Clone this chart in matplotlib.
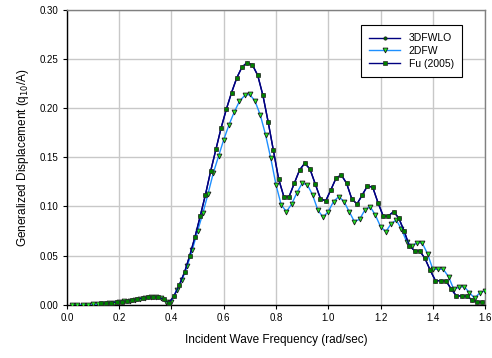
import numpy as np
import matplotlib
matplotlib.use("Agg")
import matplotlib.pyplot as plt
from matplotlib.ticker import FormatStrFormatter, MultipleLocator

plt.rcParams['font.family'] = ['Liberation Sans', 'DejaVu Sans']

# 2DFW (even frequencies 0.02 .. 1.60)
freq_2dfw = [round(0.02 * i, 2) for i in range(1, 81)]
val_2dfw = [
    0.0000, 0.0000, 0.0000, 0.0000, 0.0002, 0.0005, 0.0010, 0.0015, 0.0020, 0.0027,
    0.0034, 0.0042, 0.0051, 0.0061, 0.0071, 0.0078, 0.0079, 0.0066, 0.0032, 0.0030,
    0.0150, 0.0250, 0.0390, 0.0560, 0.0750, 0.0930, 0.1130, 0.1340, 0.1510, 0.1680,
    0.1830, 0.1960, 0.2070, 0.2130, 0.2140, 0.2070, 0.1930, 0.1730, 0.1490, 0.1220,
    0.1015, 0.0947, 0.1025, 0.1140, 0.1236, 0.1220, 0.1117, 0.0964, 0.0890, 0.0947,
    0.1050, 0.1100, 0.1050, 0.0947, 0.0845, 0.0870, 0.0964, 0.0998, 0.0913, 0.0794,
    0.0743, 0.0822, 0.0862, 0.0768, 0.0640, 0.0598, 0.0630, 0.0625, 0.0516, 0.0360,
    0.0360, 0.0360, 0.0285, 0.0157, 0.0177, 0.0183, 0.0122, 0.0065, 0.0122, 0.0140,
]

# Fu (2005) and 3DFWLO (odd frequencies 0.13 .. 1.59)
freq_fu = [round(0.13 + 0.02 * i, 2) for i in range(74)]
val_fu = [
    0.0012, 0.0016, 0.0021, 0.0026, 0.0032, 0.0039, 0.0047, 0.0056, 0.0066, 0.0075,
    0.0080, 0.0078, 0.0055, 0.0015, 0.0090, 0.0200, 0.0330, 0.0500, 0.0690, 0.0900,
    0.1120, 0.1360, 0.1580, 0.1800, 0.1990, 0.2160, 0.2310, 0.2420, 0.2465, 0.2440,
    0.2335, 0.2130, 0.1860, 0.1570, 0.1280, 0.1100, 0.1100, 0.1236, 0.1370, 0.1440,
    0.1380, 0.1230, 0.1080, 0.1056, 0.1170, 0.1290, 0.1320, 0.1236, 0.1076, 0.1025,
    0.1117, 0.1210, 0.1195, 0.1040, 0.0903, 0.0903, 0.0947, 0.0880, 0.0750, 0.0600,
    0.0550, 0.0547, 0.0470, 0.0350, 0.0244, 0.0244, 0.0244, 0.0160, 0.0089, 0.0089,
    0.0089, 0.0048, 0.0025, 0.0030,
]
freq_3d = list(freq_fu)
val_3d = list(val_fu)

fig = plt.figure(figsize=(4.92, 3.58), dpi=100)
ax = fig.add_axes([0.136, 0.149, 0.850, 0.823])

ax.plot(freq_3d, val_3d, color='#000080', lw=1.0, marker='o', ms=2.4,
        mfc='#006400', mec='#1a1a1a', mew=0.5, label='3DFWLO', zorder=3)
ax.plot(freq_2dfw, val_2dfw, color='#1E90FF', lw=1.0, marker='v', ms=3.5,
        mfc='#22EE22', mec='#1a1a1a', mew=0.6, label='2DFW', zorder=4)
ax.plot(freq_fu, val_fu, color='#000080', lw=1.0, marker='s', ms=3.2,
        mfc='#008000', mec='#2a2a2a', mew=0.5, label='Fu (2005)', zorder=5)

ax.set_xlim(0.0, 1.6)
ax.set_ylim(0.0, 0.30)
ax.xaxis.set_major_locator(MultipleLocator(0.2))
ax.yaxis.set_major_locator(MultipleLocator(0.05))
ax.xaxis.set_major_formatter(FormatStrFormatter('%.1f'))
ax.yaxis.set_major_formatter(FormatStrFormatter('%.2f'))
ax.grid(True, color='#C8C8C8', lw=1.0, zorder=0)
ax.set_axisbelow(True)
ax.tick_params(axis='both', direction='out', length=3, width=0.8,
               labelsize=7, colors='black', pad=3)
for s in ['left', 'bottom']:
    ax.spines[s].set_color('black')
    ax.spines[s].set_linewidth(1.0)
for s in ['top', 'right']:
    ax.spines[s].set_color('#808080')
    ax.spines[s].set_linewidth(1.0)

ax.set_xlabel('Incident Wave Frequency (rad/sec)', fontsize=8.5, labelpad=8)
ax.set_ylabel('Generalized Displacement (q$_{10}$/A)', fontsize=8.5, labelpad=6)

leg = ax.legend(loc='upper right', bbox_to_anchor=(0.945, 0.949),
                borderaxespad=0, fontsize=7.5, frameon=True, fancybox=False,
                edgecolor='black', framealpha=1, handlelength=3.0,
                labelspacing=0.25, borderpad=0.8)
leg.get_frame().set_linewidth(0.8)

fig.savefig('out.png', dpi=100)
